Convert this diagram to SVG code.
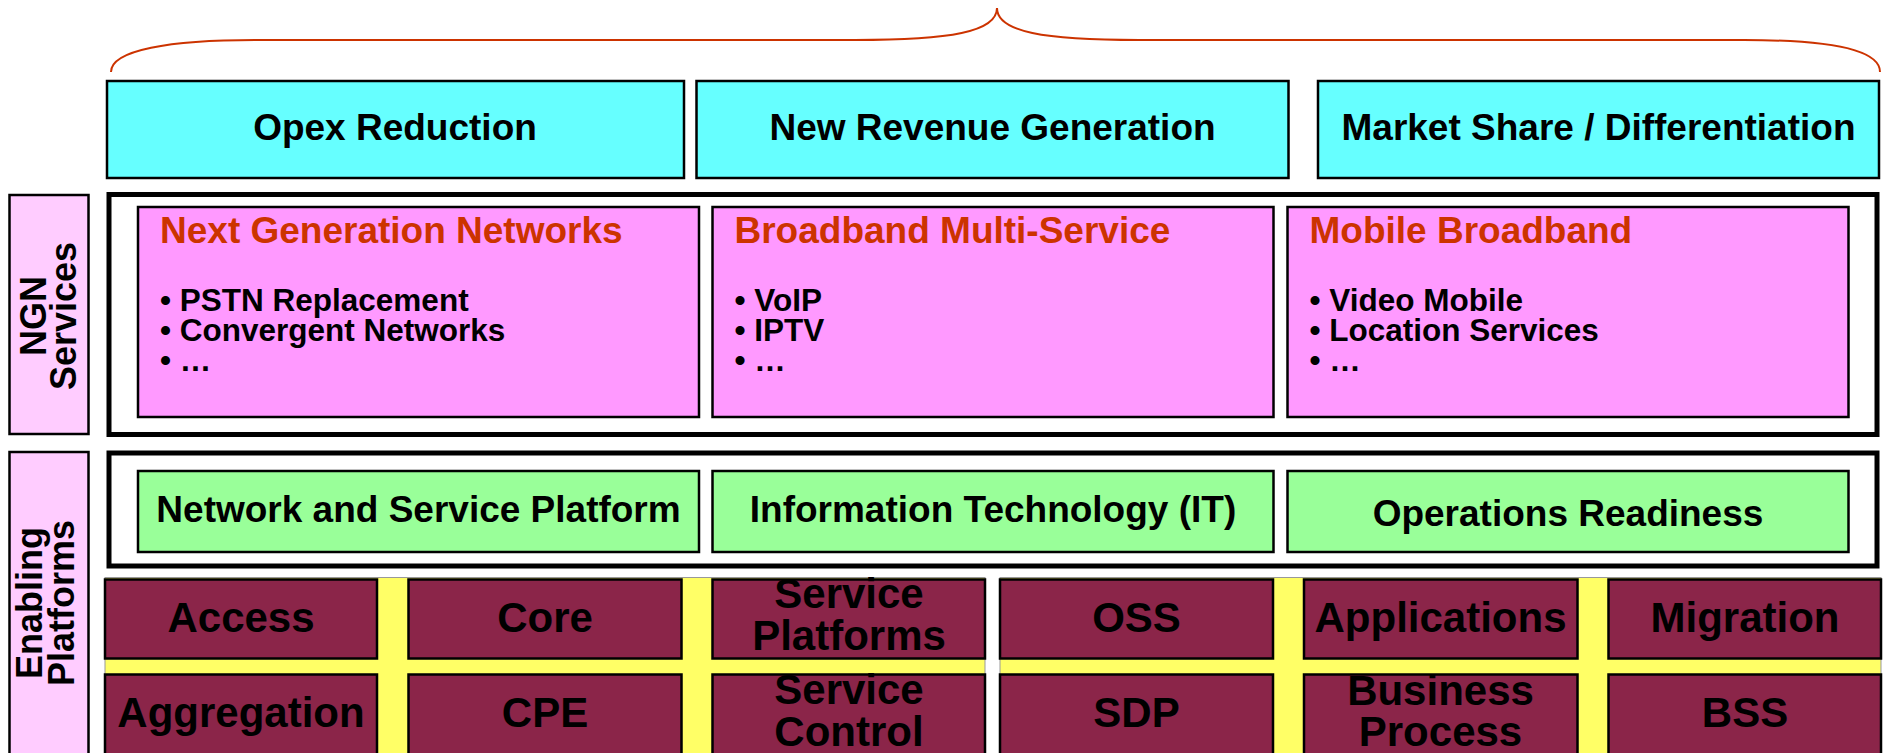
<svg xmlns="http://www.w3.org/2000/svg" width="1888" height="753" viewBox="0 0 1888 753">
  <style>
    text{font-family:"Liberation Sans",Arial,Helvetica,sans-serif;font-weight:bold;fill:#000}
    .goal{fill:#66FFFF;stroke:#000;stroke-width:2.5}
    .t37{font-size:37px;text-anchor:middle}
    .side{fill:#FFCCFF;stroke:#000;stroke-width:2.5}
    .frame{fill:#fff;stroke:#000;stroke-width:5}
    .svc{fill:#FF99FF;stroke:#000;stroke-width:2.5}
    .svc-title{font-size:37px;fill:#CC3300}
    .bul{font-size:31.5px}
    .plat{fill:#99FF99;stroke:#000;stroke-width:2.5}
    .grid{fill:#FFFF66;stroke:#999;stroke-width:1}
    .blk{fill:#8B2549;stroke:#000;stroke-width:2.5}
    .t42{font-size:42px;text-anchor:middle}
    .vlabel{font-size:36px;text-anchor:middle}
    .brace{fill:none;stroke:#CC3300;stroke-width:2}
  </style>

  <!-- curly brace spanning the three business goals -->
  <g id="connectors">
    <path class="brace" d="M111 72 C111 50 170 40 255 40 L855 40 C950 40 997 32 997 8 C997 32 1044 40 1139 40 L1744 40 C1830 40 1880 50 1880 72"/>
  </g>

  <!-- business goals -->
  <g id="goal-opex">
    <rect class="goal" x="107" y="81" width="577" height="97"/>
    <text class="t37" x="395" y="140">Opex Reduction</text>
  </g>
  <g id="goal-revenue">
    <rect class="goal" x="696.5" y="81" width="592" height="97"/>
    <text class="t37" x="992.5" y="140">New Revenue Generation</text>
  </g>
  <g id="goal-market">
    <rect class="goal" x="1318" y="81" width="561" height="97"/>
    <text class="t37" x="1598.5" y="140">Market Share / Differentiation</text>
  </g>

  <!-- NGN services layer -->
  <g id="label-ngn">
    <rect class="side" x="9.5" y="195" width="79" height="239"/>
    <text class="vlabel" transform="rotate(-90)"><tspan x="-316" y="46">NGN</tspan><tspan x="-316" y="76">Services</tspan></text>
  </g>
  <g id="frame-ngn">
    <rect class="frame" x="109" y="194.5" width="1768" height="240"/>
  </g>
  <g id="svc-ngn">
    <rect class="svc" x="138" y="207" width="561" height="210"/>
    <text class="svc-title" x="160" y="243">Next Generation Networks</text>
    <text class="bul"><tspan x="160" y="311">• PSTN Replacement</tspan><tspan x="160" y="341">• Convergent Networks</tspan><tspan x="160" y="371">• …</tspan></text>
  </g>
  <g id="svc-broadband">
    <rect class="svc" x="712.5" y="207" width="561" height="210"/>
    <text class="svc-title" x="734.5" y="243">Broadband Multi-Service</text>
    <text class="bul"><tspan x="734.5" y="311">• VoIP</tspan><tspan x="734.5" y="341">• IPTV</tspan><tspan x="734.5" y="371">• …</tspan></text>
  </g>
  <g id="svc-mobile">
    <rect class="svc" x="1287.5" y="207" width="561" height="210"/>
    <text class="svc-title" x="1309.5" y="243">Mobile Broadband</text>
    <text class="bul"><tspan x="1309.5" y="311">• Video Mobile</tspan><tspan x="1309.5" y="341">• Location Services</tspan><tspan x="1309.5" y="371">• …</tspan></text>
  </g>

  <!-- enabling platforms layer -->
  <g id="label-enabling">
    <rect class="side" x="9.5" y="452" width="79" height="312"/>
    <text class="vlabel" transform="rotate(-90)"><tspan x="-603" y="42">Enabling</tspan><tspan x="-603" y="74">Platforms</tspan></text>
  </g>
  <g id="frame-enabling">
    <rect class="frame" x="109" y="453" width="1768" height="113"/>
  </g>
  <g id="plat-network">
    <rect class="plat" x="138" y="471" width="561" height="81"/>
    <text class="t37" x="418.5" y="522">Network and Service Platform</text>
  </g>
  <g id="plat-it">
    <rect class="plat" x="712.5" y="471" width="561" height="81"/>
    <text class="t37" x="993" y="522">Information Technology (IT)</text>
  </g>
  <g id="plat-ops">
    <rect class="plat" x="1287.5" y="471" width="561" height="81"/>
    <text class="t37" x="1568" y="526">Operations Readiness</text>
  </g>

  <!-- building blocks on yellow grid -->
  <g id="grid-network">
    <rect class="grid" x="105" y="577.5" width="880" height="185"/>
  </g>
  <g id="grid-it">
    <rect class="grid" x="1000" y="577.5" width="881" height="185"/>
  </g>

  <g id="blk-access">
    <rect class="blk" x="105" y="579.5" width="272" height="79"/>
    <text class="t42" x="241" y="632">Access</text>
  </g>
  <g id="blk-core">
    <rect class="blk" x="408.5" y="579.5" width="273" height="79"/>
    <text class="t42" x="545" y="632">Core</text>
  </g>
  <g id="blk-service-platforms">
    <rect class="blk" x="712.5" y="579.5" width="272.5" height="79"/>
    <text class="t42"><tspan x="849" y="608">Service</tspan><tspan x="849" y="650">Platforms</tspan></text>
  </g>
  <g id="blk-aggregation">
    <rect class="blk" x="105" y="674.5" width="272" height="85"/>
    <text class="t42" x="241" y="727">Aggregation</text>
  </g>
  <g id="blk-cpe">
    <rect class="blk" x="408.5" y="674.5" width="273" height="85"/>
    <text class="t42" x="545" y="727">CPE</text>
  </g>
  <g id="blk-service-control">
    <rect class="blk" x="712.5" y="674.5" width="272.5" height="85"/>
    <text class="t42"><tspan x="849" y="704">Service</tspan><tspan x="849" y="746">Control</tspan></text>
  </g>

  <g id="blk-oss">
    <rect class="blk" x="1000" y="579.5" width="273" height="79"/>
    <text class="t42" x="1136.5" y="632">OSS</text>
  </g>
  <g id="blk-applications">
    <rect class="blk" x="1304" y="579.5" width="273.5" height="79"/>
    <text class="t42" x="1440.5" y="632">Applications</text>
  </g>
  <g id="blk-migration">
    <rect class="blk" x="1608.5" y="579.5" width="272.5" height="79"/>
    <text class="t42" x="1745" y="632">Migration</text>
  </g>
  <g id="blk-sdp">
    <rect class="blk" x="1000" y="674.5" width="273" height="85"/>
    <text class="t42" x="1136.5" y="727">SDP</text>
  </g>
  <g id="blk-business-process">
    <rect class="blk" x="1304" y="674.5" width="273.5" height="85"/>
    <text class="t42"><tspan x="1440.5" y="705">Business</tspan><tspan x="1440.5" y="746">Process</tspan></text>
  </g>
  <g id="blk-bss">
    <rect class="blk" x="1608.5" y="674.5" width="272.5" height="85"/>
    <text class="t42" x="1745" y="727">BSS</text>
  </g>
</svg>
